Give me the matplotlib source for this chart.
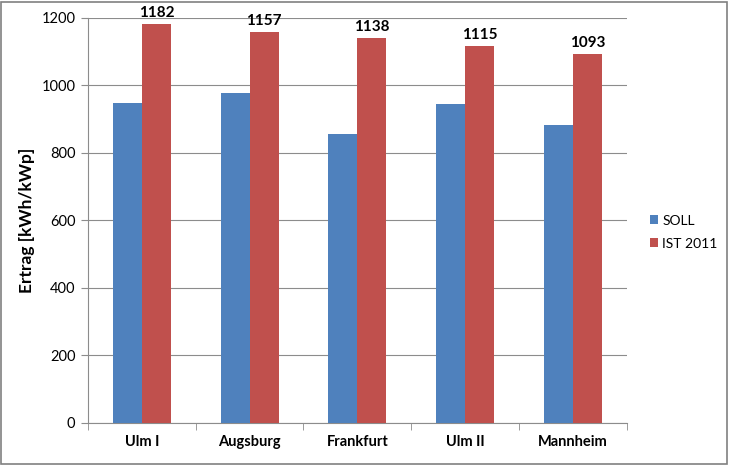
import numpy as np
import matplotlib.pyplot as plt
from matplotlib.patches import Rectangle

plt.rcParams['font.family'] = ['Lato', 'DejaVu Sans']

standorte = ['Ulm I', 'Augsburg', 'Frankfurt', 'Ulm II', 'Mannheim']
soll = [948, 975, 856, 943, 882]
ist_2011 = [1182, 1157, 1138, 1115, 1093]

c_soll = '#4F81BD'
c_ist = '#C0504D'

fig = plt.figure(figsize=(7.29, 4.66), dpi=100)
ax = fig.add_axes([0.1207, 0.0933, 0.739, 0.869])

x = np.arange(len(standorte))
w = 0.27
ax.bar(x - w / 2, soll, w, color=c_soll, label='SOLL', zorder=3)
bars_ist = ax.bar(x + w / 2, ist_2011, w, color=c_ist, label='IST 2011', zorder=3)

# Werte ueber den IST-Balken
for b, v in zip(bars_ist, ist_2011):
    ax.text(b.get_x() + b.get_width() / 2, v + 12, str(v), ha='center', va='bottom',
            fontsize=11, fontweight='bold', color='black', zorder=4)

ax.set_xlim(-0.5, len(standorte) - 0.5)
ax.set_ylim(0, 1200)
ax.set_yticks(np.arange(0, 1201, 200))
ax.yaxis.grid(True, color='#8c8c8c', linewidth=0.8, zorder=0)
ax.set_axisbelow(True)

ax.set_xticks(x)
ax.set_xticklabels(standorte, fontsize=10.5, fontweight='bold')
ax.set_xticks(np.arange(-0.5, len(standorte), 1), minor=True)
ax.tick_params(axis='x', which='major', length=0, pad=9)
ax.tick_params(axis='x', which='minor', length=5, color='#8c8c8c', direction='out')
ax.tick_params(axis='y', length=5, color='#8c8c8c', direction='out', labelsize=10.5, pad=4)

for s in ['top', 'right']:
    ax.spines[s].set_visible(False)
for s in ['left', 'bottom']:
    ax.spines[s].set_color('#8c8c8c')
    ax.spines[s].set_linewidth(0.8)

ax.set_ylabel('Ertrag [kWh/kWp]', fontsize=12.5, fontweight='bold', labelpad=5)

ax.legend(loc='center left', bbox_to_anchor=(1.02, 0.47), frameon=False, fontsize=10,
          handlelength=0.6, handleheight=0.6, handletextpad=0.3, labelspacing=0.8)

# Rahmen um das Diagramm
fig.patches.append(Rectangle((0.002, 0.005), 0.995, 0.99, transform=fig.transFigure,
                             fill=False, edgecolor='#808080', linewidth=1.2))

fig.savefig('out.png', dpi=100)
